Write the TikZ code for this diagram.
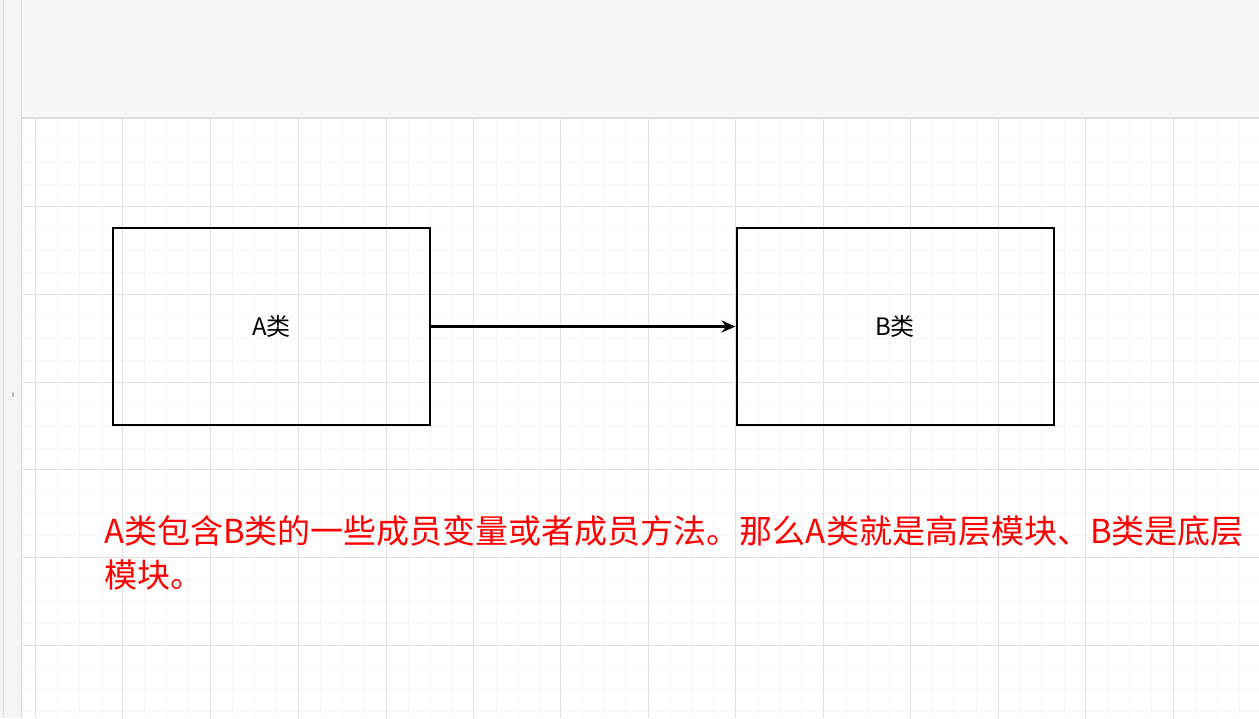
\documentclass[tikz,border=0pt]{standalone}
\usepackage{fontspec}
\newfontfamily\cjk{Noto Sans CJK SC}
\newfontfamily\dejavu{DejaVu Sans}
\usetikzlibrary{arrows.meta}
\begin{document}
\begin{tikzpicture}[x=1pt,y=-1pt,
 box/.style={draw=black,line width=2pt,minimum width=317pt,minimum height=197pt,inner sep=0pt,font=\cjk\fontsize{24}{28}\selectfont},
 redtxt/.style={text=red,anchor=west,inner sep=0pt,font=\cjk\fontsize{33}{38}\selectfont}]
\useasboundingbox (0,0) rectangle (1259,718);
\fill[white] (0,0) rectangle (1259,718);
% minor grid
\foreach \x in {57,79,101,144,166,188,232,254,276,320,342,364,408,430,452,496,518,540,582,604,626,670,692,714,757,779,801,845,867,889,932,954,976,1020,1042,1064,1107,1129,1151,1195,1217,1239}
  \draw[black!4,line width=0.8pt] (\x,118) -- (\x,718);
\foreach \y in {140,162,184,228,250,272,316,338,360,404,426,448,491,513,535,579,601,623,667,689,711}
  \draw[black!4,line width=0.8pt] (21,\y) -- (1259,\y);
% major grid
\foreach \x in {35,122,210,298,386,473,560,648,735,823,910,998,1085,1173}
  \draw[black!12,line width=1pt] (\x,118) -- (\x,718);
\foreach \y in {206,294,382,469,557,645}
  \draw[black!12,line width=1pt] (21,\y) -- (1259,\y);
% top band and left strip
\fill[black!3] (21,0) rectangle (1259,118);
\draw[black!13,line width=1.2pt] (21,118) -- (1259,118);
\fill[black!4] (0,0) rectangle (21,718);
\draw[black!15] (3,0) -- (3,718);
\draw[black!15] (21,0) -- (21,718);
\node[font=\dejavu\tiny,text=black!50] (hnd) at (13,395) {ǁ};
% boxes
\node[box] (a) at (271.5,326.5) {A类};
\node[box] (b) at (895,326.5) {B类};
\draw[line width=2.2pt,-{Stealth[length=14pt,width=12pt]}] (a.east) -- (b.west);
\node[redtxt] (t1) at (104,531) {A类包含B类的一些成员变量或者成员方法。那么A类就是高层模块、B类是底层};
\node[redtxt] (t2) at (104,575) {模块。};
\end{tikzpicture}
\end{document}
